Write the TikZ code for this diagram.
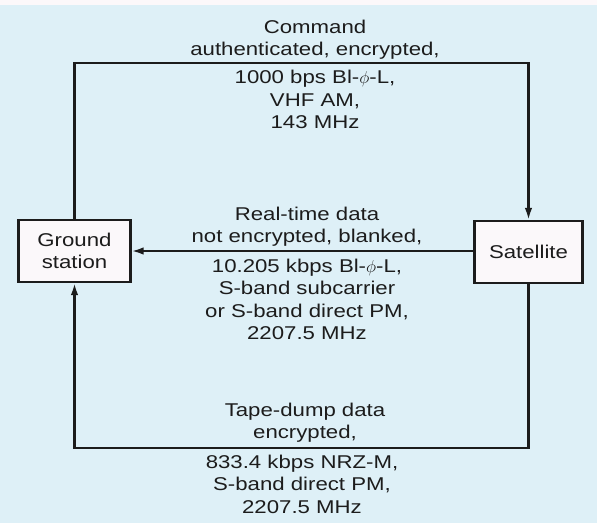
\documentclass[tikz,border=0pt]{standalone}
\usepackage{fontspec}
\setmainfont{Liberation Sans}[FakeStretch=1.2]
\usetikzlibrary{arrows.meta}
\definecolor{paper}{RGB}{222,240,247}
\definecolor{strip}{RGB}{252,248,250}
\definecolor{boxfill}{RGB}{251,248,250}
\definecolor{ink}{RGB}{28,28,28}
\begin{document}
\begin{tikzpicture}[x=1pt,y=-1pt,
  txt/.style={font=\fontsize{18.5}{22.5}\selectfont, text=ink, align=center, inner sep=0pt},
  station/.style={txt, draw=ink, fill=boxfill, line width=2.2pt},
  label/.style={txt, anchor=north},
  link/.style={draw=ink, line width=2.2pt, line join=miter},
  tip/.style={-{Latex[length=12pt,width=7.5pt]}}]
  \useasboundingbox (0,0) rectangle (597,523);
  \fill[paper] (0,0) rectangle (597,523);
  \fill[strip] (0,0) rectangle (597,5);

  % terminals
  \node[station, minimum width=112pt, minimum height=62pt] (ground) at (74.5,251) {Ground\\station};
  \node[station, minimum width=108pt, minimum height=62pt] (sat) at (528.5,252) {Satellite};

  % loop corners
  \coordinate (top) at (301,63);
  \coordinate (bottom) at (301,448);

  % command uplink
  \draw[link, tip] (ground.north) |- (top) -| (sat.north);
  % real-time downlink
  \draw[link, tip] (sat.west |- ground.east) -- (ground.east);
  % tape-dump downlink
  \draw[link, tip] (sat.south) |- (bottom) -| (ground.south);

  % link descriptions (node tops sit one cap height above the first baseline)
  \node[label] (cmdA) at (315,19.6) {Command\\authenticated, encrypted,};
  \node[label] (cmdB) at (315,69.9) {1000 bps Bl-$\phi$-L,\\VHF AM,\\143 MHz};
  \node[label] (rtA) at (307,206.6) {Real-time data\\not encrypted, blanked,};
  \node[label] (rtB) at (307,258.6) {10.205 kbps Bl-$\phi$-L,\\S-band subcarrier\\or S-band direct PM,\\2207.5 MHz};
  \node[label] (tdA) at (305,402.6) {Tape-dump data\\encrypted,};
  \node[label] (tdB) at (302,454.6) {833.4 kbps NRZ-M,\\S-band direct PM,\\2207.5 MHz};
\end{tikzpicture}
\end{document}
